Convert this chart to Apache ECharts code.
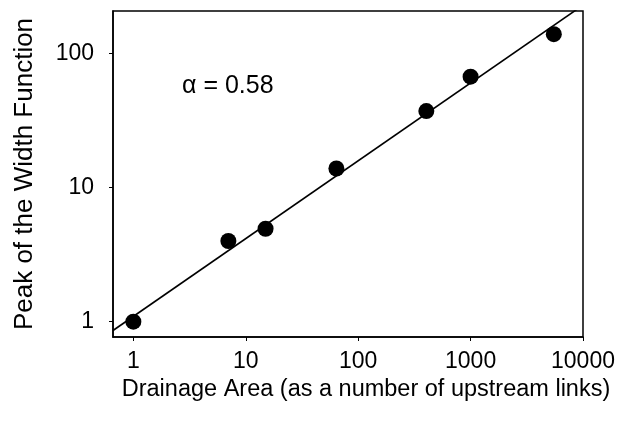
<!DOCTYPE html>
<html>
<head>
<meta charset="utf-8">
<script src="https://cdn.jsdelivr.net/npm/echarts@6/dist/echarts.min.js"></script>
<style>
html,body{margin:0;padding:0;background:#fff;}
#chart{width:631px;height:425px;}
</style>
</head>
<body>
<div id="chart"></div>
<script>
// Data
var drainageArea = [1, 7, 15, 64, 404, 1000, 5500];
var widthPeak = [1, 4.0, 4.94, 13.9, 37.3, 67.3, 139.6];
var fitX = [0.659, 10000];
var fitY = [0.86, 230];
var xTicks = [1, 10, 100, 1000, 10000];
var yTicks = [1, 10, 100];
var annotation = '\u03b1 = 0.58';

var font = '"Liberation Sans", Arial, Helvetica, sans-serif';

var chart = echarts.init(document.getElementById('chart'), null, {renderer: 'canvas'});

function fmt(list) {
  return function (v) {
    for (var i = 0; i < list.length; i++) {
      if (Math.abs(v - list[i]) / list[i] < 1e-6) return String(list[i]);
    }
    return '';
  };
}

chart.setOption({
  animation: false,
  backgroundColor: '#fff',
  grid: {
    left: 113, top: 11, right: 48, bottom: 88,
    show: true, borderColor: '#000', borderWidth: 1.5, backgroundColor: 'transparent'
  },
  xAxis: {
    type: 'log', logBase: 10, min: 0.659, max: 10000,
    name: 'Drainage Area (as a number of upstream links)',
    nameLocation: 'middle', nameGap: 38,
    nameTextStyle: {fontFamily: font, fontSize: 23.5, color: '#000', padding: [0, 0, 0, 36]},
    axisLine: {show: true, onZero: false, lineStyle: {color: '#000', width: 1.5}},
    axisTick: {show: true, length: 4, lineStyle: {color: '#000', width: 1}},
    axisLabel: {fontFamily: font, fontSize: 23, color: '#000', margin: 13, formatter: fmt(xTicks), showMinLabel: false},
    splitLine: {show: false},
    minorTick: {show: false}
  },
  yAxis: {
    type: 'log', logBase: 10, min: 0.769, max: 208,
    name: 'Peak of the Width Function',
    nameLocation: 'middle', nameGap: 75, nameRotate: 90,
    nameTextStyle: {fontFamily: font, fontSize: 26, color: '#000'},
    axisLine: {show: true, onZero: false, lineStyle: {color: '#000', width: 1.5}},
    axisTick: {show: true, length: 4, lineStyle: {color: '#000', width: 1}},
    axisLabel: {fontFamily: font, fontSize: 23, color: '#000', margin: 19, formatter: fmt(yTicks), showMinLabel: false, showMaxLabel: false},
    splitLine: {show: false}
  },
  series: [
    {
      type: 'line',
      data: fitX.map(function (x, i) { return [x, fitY[i]]; }),
      showSymbol: false, symbol: 'none',
      clip: true,
      lineStyle: {color: '#000', width: 1.6},
      z: 2
    },
    {
      type: 'scatter',
      data: drainageArea.map(function (x, i) { return [x, widthPeak[i]]; }),
      symbol: 'circle', symbolSize: 16,
      itemStyle: {color: '#000', opacity: 1},
      z: 3
    }
  ],
  graphic: [
    {
      type: 'text',
      left: 182, top: 74,
      style: {text: annotation, font: '25px ' + font, fill: '#000'}
    }
  ]
});
</script>
</body>
</html>
